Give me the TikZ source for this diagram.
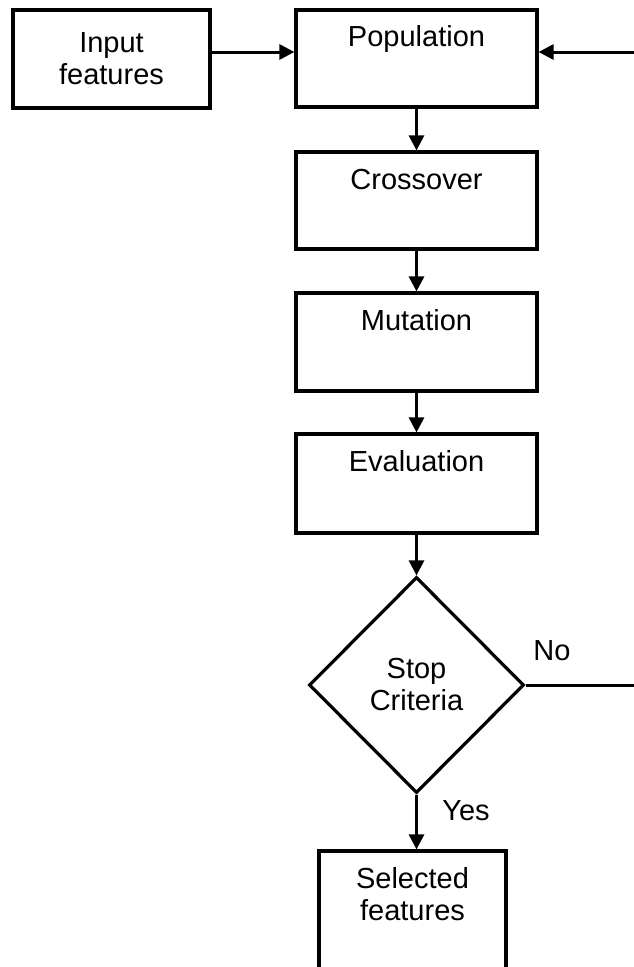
\documentclass[tikz,border=0pt]{standalone}
\usepackage{fontspec}
\setmainfont{Liberation Sans}
\usetikzlibrary{shapes.geometric,arrows.meta}
\begin{document}
\begin{tikzpicture}[x=1pt,y=-1pt,
  box/.style={draw=black,line width=3.2pt,fill=none,inner sep=0pt},
  txt/.style={font=\fontsize{29}{32}\selectfont,inner sep=0pt,align=center},
  conn/.style={line width=3pt},
  arr/.style={conn,-{Triangle[length=15pt,width=15pt]}}]
\useasboundingbox (0,0) rectangle (634,967);
\clip (0,0) rectangle (634,967);
\node[box,txt,minimum width=197pt,minimum height=98pt] (inp) at (111.5,59) {Input\\features};
\node[box,minimum width=241pt,minimum height=97pt] (pop) at (416.5,58.5) {};
\node[box,minimum width=241pt,minimum height=97pt] (cro) at (416.5,200.5) {};
\node[box,minimum width=241pt,minimum height=98pt] (mut) at (416.5,342) {};
\node[box,minimum width=241pt,minimum height=99pt] (eva) at (416.5,483.5) {};
\node[draw=black,line width=3.2pt,diamond,inner sep=0pt,minimum width=215pt,minimum height=216pt,txt] (dec) at (416.5,685) {Stop\\Criteria};
\node[box,minimum width=187pt,minimum height=139pt] (sel) at (412.5,920.5) {};
\node[txt] (tpop) at ([yshift=-31pt]pop.north) {Population};
\node[txt] (tcro) at ([yshift=-29pt]cro.north) {Crossover};
\node[txt] (tmut) at ([yshift=-29pt]mut.north) {Mutation};
\node[txt] (teva) at ([yshift=-29pt]eva.north) {Evaluation};
\node[txt,anchor=north] (tsel) at ([yshift=-18pt]sel.north) {Selected\\features};
\node[txt] (no) at (552,651) {No};
\node[txt] (yes) at (466,811) {Yes};
\coordinate (ay) at (0,52);
\coordinate (rc) at (645,52);
\draw[arr] (inp.east |- ay) -- (pop.west |- ay);
\draw[arr] (dec.east) -- (dec.east -| rc) -- (rc) -- (pop.east |- rc);
\draw[arr] (pop.south) -- (cro.north);
\draw[arr] (cro.south) -- (mut.north);
\draw[arr] (mut.south) -- (eva.north);
\draw[arr] (eva.south) -- (dec.north);
\draw[arr] (dec.south) -- (dec.south |- sel.north);
\end{tikzpicture}
\end{document}
